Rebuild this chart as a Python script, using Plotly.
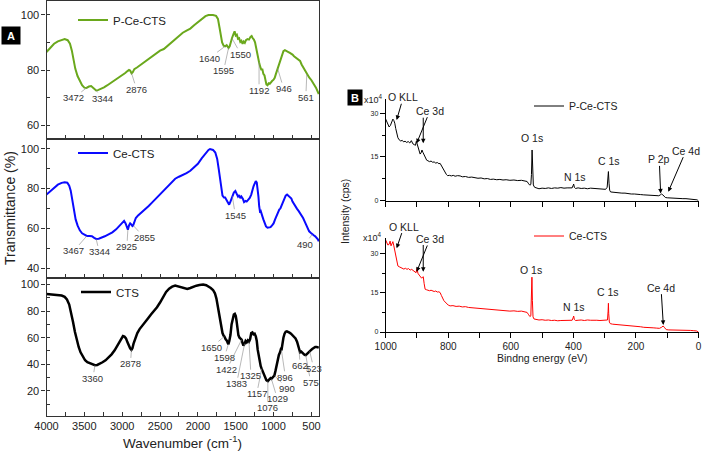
import numpy as np
import plotly.graph_objects as go

W, H = 709, 458
FONT = "Arial, Liberation Sans, sans-serif"

# ---------------- FTIR data (wavenumber cm-1, transmittance %) ----------------
pce_wn = [4000, 3950, 3900, 3850, 3800, 3760, 3720, 3690, 3665, 3645, 3620, 3590, 3560, 3530, 3500, 3472,
          3440, 3410, 3385, 3360, 3344, 3320, 3280, 3240, 3200, 3150, 3100, 3050, 3000, 2960, 2930, 2910,
          2895, 2876, 2860, 2840, 2800, 2750, 2700, 2650, 2600, 2550, 2500, 2450, 2400, 2350, 2300, 2250,
          2200, 2150, 2100, 2050, 2000, 1950, 1900, 1860, 1800, 1760, 1735, 1715, 1700, 1680, 1660, 1640,
          1620, 1605, 1595, 1580, 1565, 1550, 1530, 1515, 1500, 1485, 1470, 1455, 1440, 1425, 1410, 1395,
          1380, 1365, 1345, 1325, 1305, 1290, 1275, 1260, 1245, 1230, 1215, 1200, 1192, 1175, 1160, 1150,
          1135, 1120, 1105, 1095, 1080, 1065, 1050, 1035, 1020, 1000, 985, 970, 955, 946, 930, 910, 890,
          870, 850, 830, 810, 790, 770, 750, 730, 710, 690, 670, 650, 630, 610, 590, 575, 561, 530, 500,
          480, 460, 440, 420, 403]
pce_t = [86.5, 88.2, 89.5, 90.4, 91.0, 91.2, 90.8, 89.5, 87.0, 84.0, 80.5, 77.8, 75.8, 74.5, 73.6, 73.5,
         74.0, 74.2, 73.6, 72.8, 72.6, 72.7, 73.1, 73.7, 74.4, 75.3, 76.3, 77.3, 78.0, 78.9, 79.6, 80.0,
         79.8, 78.8, 79.2, 80.3, 81.0, 82.0, 83.0, 84.0, 85.1, 86.2, 87.0, 87.6, 88.8, 90.0, 91.3, 92.5,
         93.5, 94.3, 95.0, 96.2, 97.4, 98.6, 99.5, 99.9, 99.9, 99.6, 98.5, 95.5, 92.5, 90.0, 88.8, 88.6,
         89.0, 88.2, 88.0, 88.6, 90.5, 91.5, 93.0, 94.0, 92.5, 92.8, 91.3, 91.5, 90.2, 90.6, 89.5, 90.3,
         89.8, 90.8, 91.2, 91.0, 92.0, 92.3, 91.5, 91.0, 90.0, 87.5, 85.0, 83.5, 82.8, 81.0, 80.0, 80.5,
         78.6, 78.0, 76.0, 74.8, 74.5, 75.2, 75.0, 75.6, 76.0, 76.5, 77.2, 78.5, 79.8, 80.5, 82.0, 84.0, 85.8,
         86.8, 87.2, 87.0, 86.6, 86.3, 86.0, 85.6, 85.0, 84.6, 84.2, 83.8, 83.3, 82.0, 81.0, 80.0, 79.2, 78.5, 77.3, 76.3,
         75.6, 74.5, 73.6, 72.4, 71.3]

ce_wn = [4000, 3950, 3900, 3850, 3800, 3760, 3725, 3700, 3680, 3660, 3640, 3615, 3590, 3560, 3530, 3500,
         3467, 3430, 3400, 3370, 3344, 3310, 3270, 3230, 3180, 3130, 3080, 3040, 3000, 2975, 2955, 2940,
         2925, 2910, 2895, 2880, 2865, 2855, 2840, 2820, 2790, 2750, 2700, 2650, 2600, 2550, 2500, 2450,
         2400, 2350, 2300, 2250, 2200, 2150, 2100, 2050, 2000, 1950, 1900, 1860, 1840, 1800, 1770, 1745,
         1725, 1705, 1690, 1675, 1655, 1640, 1620, 1600, 1587, 1570, 1545, 1525, 1505, 1490, 1470, 1455,
         1440, 1425, 1405, 1390, 1370, 1355, 1335, 1315, 1295, 1280, 1265, 1250, 1235, 1222, 1210, 1200,
         1190, 1180, 1170, 1160, 1150, 1135, 1120, 1100, 1080, 1060, 1040, 1020, 1000, 980, 960, 940, 925,
         910, 895, 880, 860, 840, 822, 800, 780, 765, 750, 730, 710, 690, 670, 650, 630, 610, 590, 570,
         550, 530, 510, 490, 470, 450, 430, 415, 403]
ce_t = [77.0, 78.8, 80.5, 82.0, 82.9, 83.2, 83.0, 81.5, 79.0, 74.5, 69.5, 64.5, 61.5, 59.0, 57.5, 56.8,
        56.2, 56.2, 56.0, 55.2, 54.7, 54.8, 55.3, 56.0, 57.0, 58.0, 59.5, 61.2, 63.0, 63.8, 62.5, 61.0,
        59.3, 61.5, 62.5, 62.0, 61.2, 61.5, 63.5, 65.2, 66.5, 67.8, 69.5, 71.3, 73.2, 75.2, 77.2, 79.3,
        81.4, 83.5, 85.0, 86.0, 86.8, 87.8, 89.0, 90.6, 92.5, 95.2, 97.8, 99.5, 99.9, 99.5, 98.2, 95.0,
        90.0, 84.0, 79.5, 76.5, 75.5, 75.5, 74.2, 72.5, 71.9, 73.5, 76.2, 78.0, 78.8, 77.8, 76.0, 76.8,
        75.2, 76.0, 74.8, 73.2, 73.8, 73.5, 74.5, 75.3, 77.0, 80.0, 81.2, 82.5, 83.8, 83.0, 80.0, 76.0,
        71.0, 68.5, 68.8, 67.0, 66.3, 64.5, 62.5, 61.0, 60.3, 60.5, 60.6, 61.5, 62.5, 64.5, 66.5, 68.2, 69.5,
        70.0, 71.5, 72.5, 75.0, 76.5, 77.0, 76.3, 75.5, 75.0, 73.5, 72.0, 70.5, 69.8, 68.8, 67.8, 66.5, 65.2, 63.5, 61.5,
        60.0, 58.5, 57.8, 57.0, 56.5, 56.0, 55.2, 54.5, 53.5]

cts_wn = [4000, 3950, 3900, 3850, 3800, 3760, 3730, 3700, 3675, 3650, 3625, 3600, 3575, 3550, 3520, 3490,
          3460, 3420, 3390, 3360, 3330, 3300, 3260, 3220, 3180, 3140, 3100, 3070, 3040, 3010, 2990, 2970,
          2950, 2930, 2910, 2895, 2878, 2865, 2850, 2830, 2800, 2770, 2740, 2700, 2660, 2620, 2580, 2540,
          2500, 2460, 2420, 2380, 2340, 2300, 2260, 2220, 2180, 2140, 2100, 2060, 2020, 1980, 1930, 1890,
          1860, 1830, 1800, 1775, 1755, 1735, 1715, 1700, 1688, 1675, 1660, 1650, 1635, 1620, 1605, 1598,
          1585, 1570, 1555, 1540, 1525, 1512, 1500, 1490, 1478, 1465, 1450, 1435, 1422, 1410, 1398, 1383,
          1370, 1355, 1340, 1325, 1310, 1295, 1280, 1265, 1250, 1235, 1222, 1210, 1198, 1185, 1170, 1157,
          1140, 1125, 1110, 1095, 1085, 1076, 1065, 1050, 1040, 1029, 1015, 1000, 990, 975, 960, 945, 930,
          915, 905, 896, 885, 870, 855, 840, 825, 810, 790, 770, 750, 730, 710, 690, 675, 662, 650, 635,
          620, 605, 590, 575, 560, 545, 530, 523, 510, 490, 470, 450, 430, 410, 403]
cts_t = [93.0, 92.8, 92.5, 92.2, 91.8, 90.8, 88.8, 85.0, 79.5, 72.0, 64.5, 58.0, 53.0, 49.0, 45.5, 43.0,
         41.5, 40.5, 40.0, 39.3, 39.5, 40.2, 41.5, 43.0, 45.0, 47.5, 50.5, 53.5, 57.0, 60.0, 61.2, 60.8,
         59.5, 56.5, 53.5, 52.0, 50.8, 52.0, 55.5, 59.5, 63.5, 66.5, 68.5, 71.5, 74.5, 77.5, 80.0, 83.0,
         86.5, 90.5, 94.5, 97.0, 98.5, 99.3, 98.8, 98.2, 97.3, 96.8, 97.5, 98.5, 99.2, 99.7, 100.0, 99.6,
         98.8, 97.5, 96.0, 93.5, 89.5, 83.0, 76.0, 70.5, 67.5, 63.5, 61.5, 61.0, 59.0, 58.0, 56.0, 55.0,
         57.5, 62.0, 70.0, 75.5, 77.5, 78.0, 76.5, 73.0, 68.0, 62.0, 60.0, 59.5, 58.5, 56.0, 54.0, 55.5,
         57.5, 56.5, 58.0, 57.0, 59.0, 63.5, 64.0, 62.5, 63.0, 61.0, 57.5, 51.0, 46.0, 42.0, 38.5, 36.5,
         34.0, 32.0, 30.0, 28.0, 27.5, 27.2, 28.0, 29.0, 29.5, 29.0, 29.8, 30.5, 31.5, 35.0, 40.0, 44.0, 47.0,
         49.0, 51.0, 50.5, 55.0, 60.0, 63.0, 64.5, 64.8, 64.5, 63.8, 63.0, 62.0, 61.0, 59.5, 57.0, 54.0, 49.5, 49.0, 49.5,
         48.5, 47.5, 47.0, 46.8, 47.5, 48.5, 49.5, 49.8, 50.5, 51.5, 52.5, 53.0, 53.0, 52.5, 52.5]

# FTIR band labels: (wavenumber, text offset x px, text offset y px)
pce_labels = [(3472, -13, 10), (3344, 6, 8), (2876, 5, 16), (1640, -16, 12), (1595, -5, 23),
              (1550, 9, 16), (1192, 0, 28), (946, 6, 20), (561, -1, 23)]
ce_labels = [(3467, -13, 15), (3344, 3, 13), (2925, -1, 17), (2855, 11, 12), (1545, 3, 19), (490, -7, 10)]
cts_labels = [(3360, -2, 13), (2878, -1, 14), (1650, -13, 11), (1598, -4, 13), (1422, -15, 30),
              (1383, -8, 40), (1325, 2, 34), (1157, -5, 25), (1076, 0, 26), (1029, 6, 20),
              (990, 13, 13), (896, 4, 27), (662, 1, 14), (575, 5, 27), (523, 4, 17)]

# ---------------- XPS survey data (binding energy eV, intensity x10^4 cps) ----------------
pce_xps = [(1000, 28.0), (997, 27.3), (993, 26.0), (989, 25.3), (985, 25.8), (981, 26.8), (977, 28.0), (974, 27.5),
           (971, 26.6), (968, 24.8), (965, 23.0), (961, 21.6), (957, 20.9), (952, 20.5), (947, 20.7), (943, 20.2),
           (938, 20.4), (933, 20.0), (928, 20.3), (923, 19.8), (918, 20.6), (913, 19.5), (908, 19.2), (905, 19.0),
           (902, 20.4), (899, 19.3), (896, 18.5), (893, 17.6), (890, 16.0), (887, 16.4), (884, 17.4), (881, 16.6),
           (878, 15.8), (875, 15.0), (872, 14.6), (869, 13.9), (865, 13.7), (860, 13.4), (855, 13.6), (850, 13.2),
           (845, 13.3), (840, 12.9), (835, 13.1), (830, 12.7), (826, 12.8), (822, 12.0), (818, 11.3), (814, 10.5),
           (810, 9.6), (806, 9.0), (802, 8.6), (796, 8.7), (790, 8.5), (784, 8.7), (778, 8.4), (770, 8.6),
           (762, 8.5), (755, 8.2), (745, 8.3), (735, 8.0), (725, 8.1), (715, 7.9), (705, 7.7), (695, 7.8),
           (685, 7.5), (675, 7.6), (665, 7.3), (656, 7.4), (645, 7.2), (635, 7.3), (625, 7.1), (615, 7.2),
           (603, 7.0), (590, 7.1), (578, 6.9), (566, 7.0), (555, 6.9), (548, 6.6), (543, 5.8), (539, 5.3),
           (536, 5.6), (534, 9.0), (532, 17.4), (530, 9.5), (528, 5.4), (524, 4.6), (518, 4.3), (510, 4.1),
           (500, 4.3), (490, 4.2), (480, 4.4), (470, 4.2), (460, 4.4), (450, 4.3), (440, 4.5), (430, 4.3),
           (420, 4.4), (410, 4.3), (404, 4.4), (401, 5.2), (399, 5.7), (397, 4.6), (393, 4.2), (385, 4.4),
           (375, 4.2), (365, 4.3), (355, 4.1), (345, 4.3), (335, 4.2), (325, 4.1), (315, 4.2), (305, 4.0),
           (297, 3.9), (292, 4.6), (290, 7.5), (288, 10.0), (286, 6.0), (284, 3.6), (281, 3.0), (275, 2.9),
           (265, 2.8), (255, 2.7), (245, 2.6), (235, 2.6), (225, 2.4), (215, 2.3), (205, 2.3), (195, 2.1),
           (185, 2.1), (175, 2.0), (165, 1.9), (155, 1.8), (145, 1.8), (135, 1.7), (127, 1.7), (122, 2.0),
           (118, 2.3), (114, 2.0), (110, 1.4), (106, 1.1), (100, 1.0), (90, 0.9), (80, 0.9), (70, 0.8),
           (60, 0.8), (50, 0.7), (40, 0.7), (30, 0.6), (20, 0.6), (12, 0.5), (5, 0.3), (0, 0.0)]
ce_xps = [(1000, 35.2), (997, 34.0), (993, 33.3), (989, 33.6), (986, 34.8), (983, 33.0), (980, 34.2), (977, 34.6),
          (974, 33.0), (971, 31.0), (968, 29.0), (965, 26.5), (961, 25.3), (957, 25.0), (952, 24.6), (947, 24.5),
          (942, 24.1), (937, 24.4), (932, 24.0), (927, 24.3), (922, 23.7), (917, 24.0), (912, 23.4), (907, 23.1),
          (903, 22.7), (900, 24.4), (897, 22.5), (893, 21.8), (889, 21.0), (885, 20.6), (882, 21.0), (880, 21.2),
          (877, 18.5), (874, 16.4), (870, 16.2), (865, 15.9), (860, 15.8), (855, 16.0), (850, 15.6), (845, 15.5),
          (840, 15.7), (835, 15.3), (830, 15.4), (826, 15.1), (822, 14.0), (818, 12.8), (814, 12.0), (810, 11.5),
          (805, 10.8), (800, 10.3), (794, 10.0), (785, 10.1), (775, 9.8), (765, 9.9), (755, 9.6), (745, 9.7),
          (735, 9.4), (725, 9.3), (715, 9.2), (705, 9.0), (695, 8.9), (685, 8.8), (675, 8.7), (665, 8.6),
          (656, 8.4), (645, 8.3), (635, 8.4), (625, 8.1), (615, 8.2), (603, 8.0), (590, 8.1), (578, 7.9),
          (566, 8.0), (555, 7.8), (548, 7.5), (543, 6.6), (539, 5.9), (536, 6.2), (534, 12.0), (532.5, 21.0),
          (531, 12.0), (529, 5.8), (526, 5.0), (520, 4.8), (510, 4.6), (500, 4.7), (490, 4.5), (480, 4.6),
          (470, 4.4), (460, 4.5), (450, 4.3), (440, 4.4), (430, 4.5), (420, 4.4), (410, 4.6), (404, 4.5),
          (401, 5.4), (399, 6.1), (397, 4.8), (393, 4.4), (385, 4.5), (375, 4.6), (365, 4.4), (355, 4.6),
          (345, 4.5), (335, 4.6), (325, 4.5), (315, 4.4), (305, 4.5), (297, 4.3), (291, 4.6), (289, 8.0),
          (288, 11.0), (287, 7.0), (285, 3.8), (282, 3.2), (275, 3.0), (265, 2.9), (255, 2.8), (245, 2.7),
          (235, 2.7), (225, 2.5), (215, 2.4), (205, 2.3), (195, 2.2), (185, 2.0), (175, 1.8), (165, 1.8),
          (155, 1.7), (145, 1.6), (135, 1.5), (125, 1.4), (118, 1.8), (113, 2.3), (108, 1.6), (103, 0.9),
          (95, 0.8), (85, 0.8), (75, 0.7), (65, 0.8), (55, 0.7), (45, 0.7), (35, 0.8), (25, 0.6),
          (15, 0.5), (6, 0.4), (0, 0.0)]
pce_xps_e = [p[0] for p in pce_xps]
pce_xps_i = [p[1] for p in pce_xps]
ce_xps_e = [p[0] for p in ce_xps]
ce_xps_i = [p[1] for p in ce_xps]


def paper(px, py):
    return px / W, 1 - py / H


def ydom(top, bot):
    return [1 - bot / H, 1 - top / H]


fig = go.Figure()
fig.add_trace(go.Scatter(x=pce_wn, y=pce_t, mode="lines", name="P-Ce-CTS", line=dict(color="#6aa81c", width=2),
                         xaxis="x", yaxis="y", legend="legend"))
fig.add_trace(go.Scatter(x=ce_wn, y=ce_t, mode="lines", name="Ce-CTS", line=dict(color="#0a0aff", width=2),
                         xaxis="x2", yaxis="y2", legend="legend2"))
fig.add_trace(go.Scatter(x=cts_wn, y=cts_t, mode="lines", name="CTS", line=dict(color="#000000", width=2.5),
                         xaxis="x3", yaxis="y3", legend="legend3"))
fig.add_trace(go.Scatter(x=pce_xps_e, y=pce_xps_i, mode="lines", name="P-Ce-CTS", line=dict(color="#000000", width=1),
                         xaxis="x4", yaxis="y4", legend="legend4"))
fig.add_trace(go.Scatter(x=ce_xps_e, y=ce_xps_i, mode="lines", name="Ce-CTS", line=dict(color="#ff0000", width=1),
                         xaxis="x5", yaxis="y5", legend="legend5"))

AX_COL = "#333333"
tickf = dict(family=FONT, size=11, color="#222")


def ftir_x(anchor, show_labels):
    return dict(domain=[46.5 / W, 319 / W], range=[4000, 400], showline=True, mirror=True, linecolor=AX_COL,
                linewidth=1.3, ticks="inside", ticklen=4, tickcolor=AX_COL, dtick=500, tick0=0,
                minor=dict(ticks="inside", ticklen=4, dtick=250, tickcolor=AX_COL),
                showticklabels=show_labels, tickfont=tickf, showgrid=False, zeroline=False,
                automargin=False, anchor=anchor)


def ftir_y(anchor, dom, rng):
    return dict(domain=dom, range=rng, showline=True, mirror=True, linecolor=AX_COL, linewidth=1.3,
                ticks="outside", ticklen=4, tickcolor=AX_COL, dtick=20, tick0=0,
                minor=dict(ticks="inside", ticklen=3, dtick=10, tickcolor=AX_COL),
                tickfont=tickf, showgrid=False, zeroline=False, automargin=False, anchor=anchor)


def xps_x(anchor, show_labels):
    return dict(domain=[385.7 / W, 698.5 / W], range=[1000, 0], showline=True, linecolor="#000", linewidth=1,
                ticks="outside", ticklen=5, tickcolor="#000", dtick=200 if show_labels else 100, tick0=0,
                minor=dict(ticks="outside", ticklen=5, dtick=100, tickcolor="#000"),
                showticklabels=show_labels, tickfont=dict(family=FONT, size=10, color="#222"),
                showgrid=False, zeroline=False, anchor=anchor, automargin=False)


def xps_y(anchor, dom, rng):
    return dict(domain=dom, range=rng, showline=True, linecolor="#000", linewidth=1, ticks="outside",
                ticklen=5, tickcolor="#000", dtick=15, tick0=0,
                minor=dict(ticks="outside", ticklen=3, dtick=7.5, tickcolor="#000"),
                tickfont=dict(family=FONT, size=7, color="#222"), showgrid=False, zeroline=False,
                anchor=anchor, automargin=False)


fig.update_layout(
    template="none",
    width=W, height=H, margin=dict(l=0, r=0, t=0, b=0, pad=0), paper_bgcolor="white",
    plot_bgcolor="rgba(0,0,0,0)", font=dict(family=FONT, color="#222"),
    xaxis=ftir_x("y", False), yaxis=ftir_y("x", ydom(1, 139), [55, 105]),
    xaxis2=ftir_x("y2", False), yaxis2=ftir_y("x2", ydom(139, 278), [35, 105]),
    xaxis3=ftir_x("y3", True), yaxis3=ftir_y("x3", ydom(278, 416), [1, 105]),
    xaxis4=xps_x("y4", False), yaxis4=xps_y("x4", ydom(98.7, 200.7), [0, 35]),
    xaxis5=xps_x("y5", True), yaxis5=xps_y("x5", ydom(238, 332), [0, 36]),
)


def leg(px, py, size):
    x, y = paper(px, py)
    return dict(x=x, y=y, xanchor="left", yanchor="middle", bgcolor="rgba(0,0,0,0)", borderwidth=0,
                font=dict(family=FONT, size=size, color="#222"), itemwidth=30, tracegroupgap=0)


fig.update_layout(legend=leg(73, 20, 11.5), legend2=leg(73, 153, 11.5), legend3=leg(76, 292, 11.5),
                  legend4=leg(529, 106, 10.5), legend5=leg(529, 236, 10.5), showlegend=True)

ann = []
# FTIR band labels with leader lines
for (wn, tt, labels, xr, yr) in [(pce_wn, pce_t, pce_labels, "x", "y"), (ce_wn, ce_t, ce_labels, "x2", "y2"),
                                 (cts_wn, cts_t, cts_labels, "x3", "y3")]:
    for w, dx, dy in labels:
        yv = float(np.interp(w, wn[::-1], tt[::-1]))
        ann.append(dict(x=w, y=yv, xref=xr, yref=yr, text=str(w), showarrow=True, arrowhead=0, arrowwidth=0.6,
                        arrowcolor="#888", ax=dx, ay=dy, standoff=0, borderpad=0,
                        font=dict(family=FONT, size=9.5, color="#333")))


def ptext(px, py, text, size, **kw):
    x, y = paper(px, py)
    d = dict(x=x, y=y, xref="paper", yref="paper", text=text, showarrow=False, xanchor="center",
             yanchor="middle", font=dict(family=FONT, size=size, color=kw.pop("color", "#222")))
    d.update(kw)
    return d


# axis titles
ann.append(ptext(10, 208, "Transmittance (%)", 14, textangle=-90))
ann.append(ptext(182, 442, "Wavenumber (cm<sup>-1</sup>)", 13.5))
ann.append(ptext(345, 212, "Intensity (cps)", 10.5, textangle=-90))
ann.append(ptext(542, 358, "Bindng energy (eV)", 10.5))
# panel letters
ann.append(ptext(11.3, 35.8, "<b>A</b>", 11, color="white", bgcolor="black", width=16, height=15))
ann.append(ptext(355, 98, "<b>B</b>", 11, color="white", bgcolor="black", width=12, height=13))

# XPS text labels without arrows
xps_labels = [(373.3, 99, "x10<sup>4</sup>", 9), (531.7, 138.3, "O 1s", 10.5), (575, 176.7, "N 1s", 10.5),
              (609.3, 160.7, "C 1s", 10.5),
              (372.7, 236.7, "x10<sup>4</sup>", 9), (531, 270, "O 1s", 10.5), (574, 307.3, "N 1s", 10.5),
              (608.3, 291.7, "C 1s", 10.5)]
for px, py, t, s in xps_labels:
    ann.append(ptext(px, py, t, s))

# XPS labels with arrows: (axis x, axis y, text, energy at head, intensity at head, text offset px)
xps_arrows = [("x4", "y4", "O KLL", 965, 27.7, 6.6, -22.7), ("x4", "y4", "Ce 3d", 901, 19.7, 13.3, -32.6),
              ("x4", "y4", " ", 880, 19.7, 0, -26.6), ("x4", "y4", "P 2p", 121, 2.5, -1.4, -34),
              ("x4", "y4", "Ce 4d", 96.5, 3.1, 17.7, -41),
              ("x5", "y5", "O KLL", 965, 32.1, 7.3, -21.6), ("x5", "y5", "Ce 3d", 901, 23.1, 13.3, -32.7),
              ("x5", "y5", " ", 880, 23.1, 0, -27.7), ("x5", "y5", "Ce 4d", 112.5, 2.7, -2.3, -37.3)]
for xr, yr, t, e, v, dx, dy in xps_arrows:
    ann.append(dict(x=e, y=v, xref=xr, yref=yr, text=t, showarrow=True, arrowhead=2, arrowsize=0.9,
                    arrowwidth=1, arrowcolor="#000", ax=dx, ay=dy, standoff=0, borderpad=0,
                    font=dict(family=FONT, size=10.5 if t.strip() else 1, color="#222")))

fig.update_layout(annotations=ann)
fig.write_html("out.html", config={"displayModeBar": False},
               post_script="document.body.style.margin='0';document.body.style.overflow='hidden';")
